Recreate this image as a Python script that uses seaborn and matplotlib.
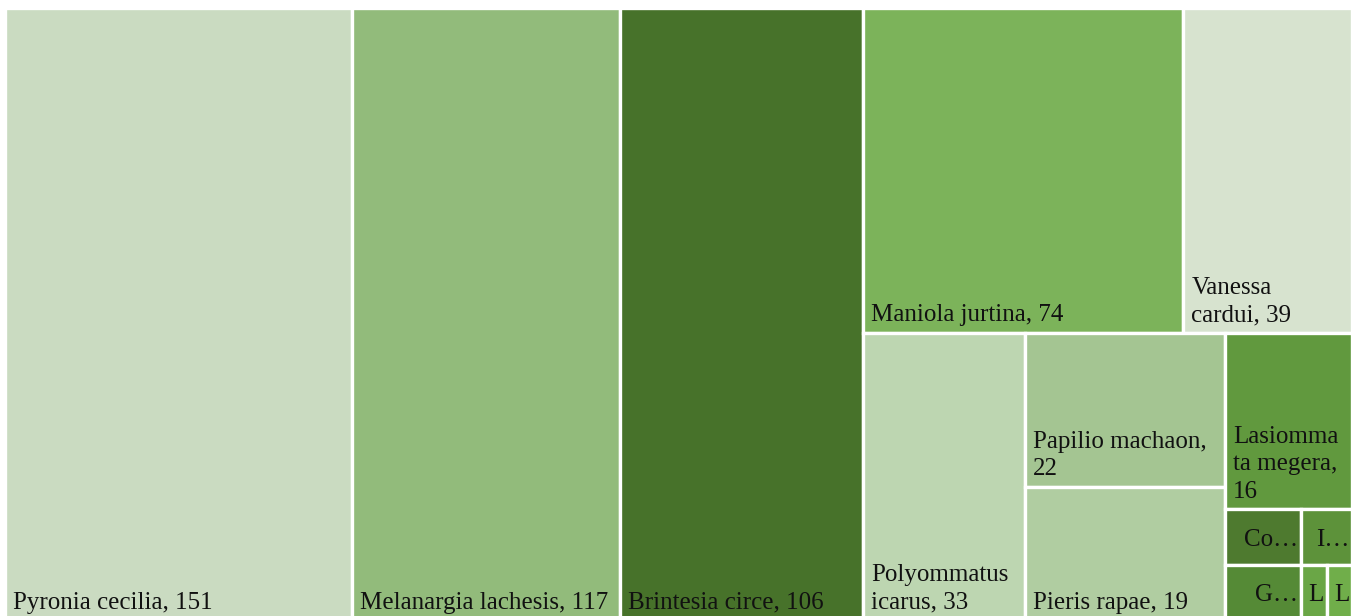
import numpy as np
import matplotlib
matplotlib.use("Agg")
import matplotlib.pyplot as plt
from matplotlib.patches import Rectangle
import seaborn as sns

# data (sorted largest first, as in the chart)
species = ["Pyronia cecilia", "Melanargia lachesis", "Brintesia circe", "Maniola jurtina",
           "Vanessa cardui", "Polyommatus icarus", "Papilio machaon", "Pieris rapae",
           "Lasiommata megera", "Co", "G", "I", "L1", "L2"]
counts = [151, 117, 106, 74, 39, 33, 22, 19, 16, 3, 3, 2, 1, 1]
labels = ["Pyronia cecilia, 151", "Melanargia lachesis, 117", "Brintesia circe, 106",
          "Maniola jurtina, 74", "Vanessa\ncardui, 39", "Polyommatus\nicarus, 33",
          "Papilio machaon,\n22", "Pieris rapae, 19", "Lasiomma\nta megera,\n16",
          "Co…", "G…", "I…", "L", "L"]
colors = ["#CADBC1", "#92BB7B", "#47722A", "#7CB35A", "#D7E3CF", "#BDD6B1", "#A4C592",
          "#B0CDA1", "#61993E", "#4E7A2F", "#558A36", "#5D923A", "#6AA646", "#70AE4A"]

W, H = 1347, 612  # plot area in pixels


def score(heights, widths, target=1.28):
    r = np.asarray(heights) / np.asarray(widths)
    return np.max(np.abs(np.log(r / target)))


def treemap(values, x, y, w, h):
    """squarified-style layout, cells slightly taller than wide"""
    areas = list(np.asarray(values, float) * w * h / sum(values))
    rects = []
    i = 0
    while i < len(areas):
        rem = areas[i:]
        vertical = w >= h
        side = h if vertical else w

        def row_score(row):
            thick = sum(row) / side
            lens = [a / thick for a in row]
            if vertical:
                return score(lens, [thick] * len(row))
            return score([thick] * len(row), lens)

        row = [rem[0]]
        best = row_score(row)
        for a in rem[1:]:
            s = row_score(row + [a])
            if s > best:
                break
            row.append(a)
            best = s
        thick = sum(row) / side
        pos = y if vertical else x
        for a in row:
            ln = a / thick
            if vertical:
                rects.append((x, pos, thick, ln))
            else:
                rects.append((pos, y, ln, thick))
            pos += ln
        if vertical:
            x += thick
            w -= thick
        else:
            y += thick
            h -= thick
        i += len(row)
    return rects


sns.set_style("white")
plt.rcParams["font.family"] = ["Liberation Serif", "DejaVu Serif"]

fig = plt.figure(figsize=(13.55, 6.16), dpi=100)
ax = fig.add_axes([5 / 1355, -4 / 616, W / 1355, H / 616])
ax.set_xlim(0, W)
ax.set_ylim(H, 0)
ax.axis("off")

for (rx, ry, rw, rh), lab, col in zip(treemap(counts, 0, 0, W, H), labels, colors):
    patch = Rectangle((rx, ry), rw, rh, facecolor=col, edgecolor="white", linewidth=2.4)
    ax.add_patch(patch)
    if rw < 80:
        t = ax.text(rx + rw - 3, ry + rh / 2, lab, ha="right", va="center_baseline",
                    fontsize=18, color="#111111")
    else:
        t = ax.text(rx + 8, ry + rh - 6.5, lab, ha="left", va="bottom",
                    fontsize=18, color="#111111", linespacing=1.33)
    t.set_clip_path(patch)

fig.savefig("out.png", dpi=100)
